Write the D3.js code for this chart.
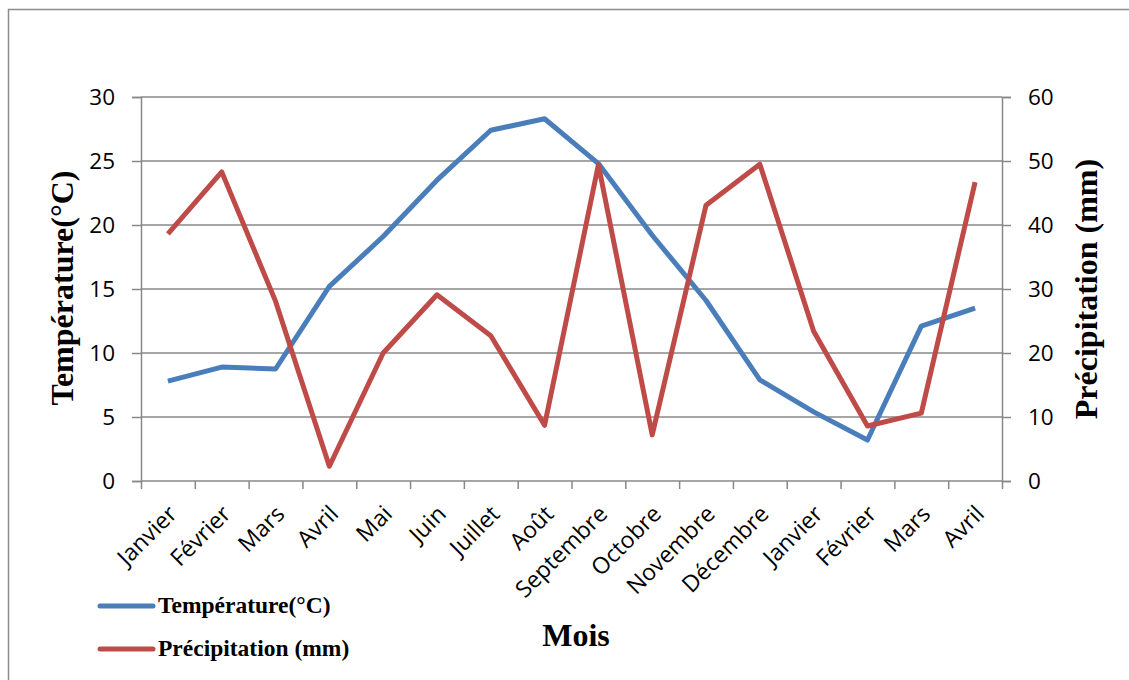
<!DOCTYPE html>
<html>
<head>
<meta charset="utf-8">
<script src="https://cdn.jsdelivr.net/npm/d3@7"></script>
<style>
	body { margin: 0; background: #fff; }
	svg { display: block; }
</style>
</head>
<body>
<div id="chart"></div>
<script>
// chart data
const months = ["Janvier", "Février", "Mars", "Avril", "Mai", "Juin", "Juillet", "Août",
	"Septembre", "Octobre", "Novembre", "Décembre", "Janvier", "Février", "Mars", "Avril"];
const temperature = [7.8, 8.9, 8.75, 15.2, 19.1, 23.5, 27.4, 28.3, 24.8, 19.2, 14.1, 7.9, 5.4, 3.2, 12.1, 13.5];
const precipitation = [38.6, 48.3, 28.1, 2.3, 20.0, 29.1, 22.7, 8.7, 49.4, 7.2, 43.1, 49.5, 23.4, 8.6, 10.6, 46.7];
const leftTicks = [0, 5, 10, 15, 20, 25, 30];
const rightTicks = [0, 10, 20, 30, 40, 50, 60];

const W = 1129, H = 680;
const margin = {top: 97, right: 127, bottom: 199, left: 141};
const width = W - margin.left - margin.right;
const height = H - margin.top - margin.bottom;

const blue = "#4a7ebb", red = "#be4b48", grey = "#888";
const tickFont = "'Open Sans', 'Liberation Sans', sans-serif";
const titleFont = "'Liberation Serif', 'Times New Roman', serif";

let svg = d3.select("#chart").append("svg")
	.attr("width", W)
	.attr("height", H);

// outer frame
svg.append("rect")
	.attr("x", 8.5).attr("y", 9.5)
	.attr("width", W + 10).attr("height", H + 10)
	.attr("fill", "none")
	.attr("stroke", "#8c8c8c")
	.attr("stroke-width", 1.5);

let g = svg.append("g")
	.attr("transform", "translate(" + margin.left + "," + margin.top + ")");

// band scale for the point positions
let xb = d3.scaleBand()
	.domain(d3.range(months.length))
	.range([0, width]);

let yL = d3.scaleLinear().domain([0, 30]).range([height, 0]);
let yR = d3.scaleLinear().domain([0, 60]).range([height, 0]);

// gridlines
g.append("g")
	.selectAll("line")
	.data(leftTicks.slice(1))
	.enter().append("line")
	.attr("x1", 0).attr("x2", width)
	.attr("y1", d => yL(d)).attr("y2", d => yL(d))
	.attr("stroke", grey)
	.attr("stroke-width", 1.5);

// left axis
let axL = g.append("g")
	.call(d3.axisLeft(yL).tickValues(leftTicks).tickSize(9).tickPadding(17));

// right axis
let axR = g.append("g")
	.attr("transform", "translate(" + width + ",0)")
	.call(d3.axisRight(yR).tickValues(rightTicks).tickSize(9).tickPadding(17));

// bottom axis: ticks on band boundaries
let xTick = d3.scaleLinear().domain([0, months.length]).range([0, width]);
let axB = g.append("g")
	.attr("transform", "translate(0," + height + ")")
	.call(d3.axisBottom(xTick).ticks(months.length).tickSize(8).tickFormat(""));

[axL, axR, axB].forEach(a => {
	a.select(".domain").attr("stroke", grey).attr("stroke-width", 1.5);
	a.selectAll(".tick line").attr("stroke", grey).attr("stroke-width", 1.5);
	a.selectAll("text")
		.attr("font-family", tickFont)
		.attr("font-size", 22.5)
		.attr("fill", "#000");
});
axB.select(".domain").attr("d", "M0,0H" + width);

// month labels
g.append("g")
	.selectAll("text")
	.data(months)
	.enter().append("text")
	.attr("transform", (d, i) => "translate(" + (xb(i) + xb.bandwidth() / 2 - 1) + "," + (height + 23) + ") rotate(-45)")
	.attr("text-anchor", "end")
	.attr("dy", "0.7em")
	.attr("font-family", tickFont)
	.attr("font-size", 23)
	.text(d => d);

// lines
let cx = i => xb(i) + xb.bandwidth() / 2;

g.append("path")
	.datum(temperature)
	.attr("fill", "none")
	.attr("stroke", blue)
	.attr("stroke-width", 5)
	.attr("stroke-linejoin", "round")
	.attr("d", d3.line().x((d, i) => cx(i)).y(d => yL(d)));

g.append("path")
	.datum(precipitation)
	.attr("fill", "none")
	.attr("stroke", red)
	.attr("stroke-width", 5)
	.attr("stroke-linejoin", "round")
	.attr("d", d3.line().x((d, i) => cx(i)).y(d => yR(d)));

// axis titles
svg.append("text")
	.attr("transform", "translate(73," + (margin.top + height / 2 - 1) + ") rotate(-90)")
	.attr("text-anchor", "middle")
	.attr("font-family", titleFont)
	.attr("font-weight", "bold")
	.attr("font-size", 32)
	.text("Température(°C)");

svg.append("text")
	.attr("transform", "translate(1097," + (margin.top + height / 2) + ") rotate(-90)")
	.attr("text-anchor", "middle")
	.attr("font-family", titleFont)
	.attr("font-weight", "bold")
	.attr("font-size", 32)
	.text("Précipitation (mm)");

svg.append("text")
	.attr("x", 576).attr("y", 646)
	.attr("text-anchor", "middle")
	.attr("font-family", titleFont)
	.attr("font-weight", "bold")
	.attr("font-size", 32)
	.text("Mois");

// legend
let legend = svg.append("g");
let items = [{name: "Température(°C)", color: blue, y: 606}, {name: "Précipitation (mm)", color: red, y: 649}];
items.forEach(it => {
	legend.append("line")
		.attr("x1", 100).attr("x2", 153)
		.attr("y1", it.y).attr("y2", it.y)
		.attr("stroke", it.color)
		.attr("stroke-width", 5)
		.attr("stroke-linecap", "round");
	legend.append("text")
		.attr("x", 158).attr("y", it.y + 7)
		.attr("font-family", titleFont)
		.attr("font-weight", "bold")
		.attr("font-size", 23.5)
		.text(it.name);
});
</script>
</body>
</html>
